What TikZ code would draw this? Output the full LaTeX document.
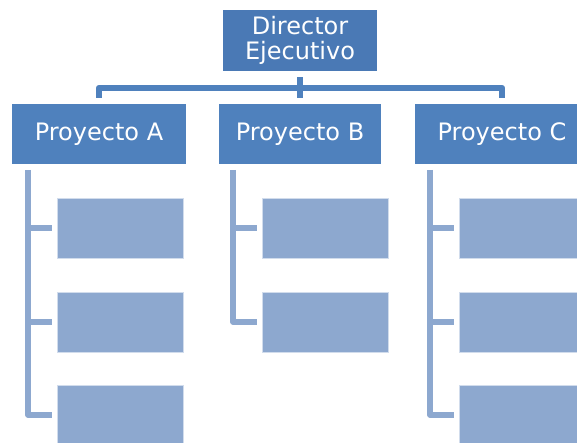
\documentclass[tikz,border=0pt]{standalone}
\usepackage{fontspec}
\setmainfont{DejaVu Sans}
\definecolor{dirblue}{HTML}{4A79B5}
\definecolor{projblue}{HTML}{4F81BD}
\definecolor{subblue}{HTML}{8DA8CF}
\tikzset{
  topbox/.style={fill=dirblue, text=white, inner sep=0pt, align=center,
    font=\fontsize{24}{25}\selectfont, minimum width=154pt, minimum height=61pt},
  projbox/.style={fill=projblue, text=white, inner sep=0pt,
    font=\fontsize{24}{25}\selectfont, minimum height=60pt},
  subbox/.style={fill=subblue, draw=white!60!subblue, line width=0.6pt, inner sep=0pt,
    minimum width=126pt, minimum height=60pt},
  conn/.style={draw=projblue, line width=6.5pt, line join=round},
  brk/.style={draw=subblue, line width=5.5pt, line join=round}
}
\begin{document}
\begin{tikzpicture}[x=1pt,y=-1pt]
\useasboundingbox (0,0) rectangle (577,443);
\clip (0,0) rectangle (577,443);
% top
\node[topbox] (dir) at (300,40.5) {Director\\Ejecutivo};
% projects
\node[projbox, minimum width=174pt] (pa) at (99,134) {\raisebox{-2pt}{Proyecto A}};
\node[projbox, minimum width=162pt] (pb) at (300,134) {\raisebox{-2pt}{Proyecto B}};
\node[projbox, minimum width=174pt] (pc) at (502,134) {\raisebox{-2pt}{Proyecto C}};
% sub boxes
\node[subbox] (a1) at (120,228) {};
\node[subbox] (a2) at (120,322) {};
\node[subbox] (a3) at (120,415) {};
\node[subbox] (b1) at (325,228) {};
\node[subbox] (b2) at (325,322) {};
\node[subbox] (c1) at (522,228) {};
\node[subbox] (c2) at (522,322) {};
\node[subbox] (c3) at (522,415) {};
% top connectors
\coordinate (bar) at (300,88);
\draw[conn] ([yshift=6pt]pa.north) -- (pa.north |- bar) -- (pc.north |- bar) -- ([yshift=6pt]pc.north);
\draw[conn] ([yshift=-6pt]dir.south) -- ([yshift=6pt]pb.north);
% brackets
\coordinate (ta) at (28,170);
\coordinate (tb) at (233,170);
\coordinate (tc) at (430,170);
\draw[brk] (ta) |- ([xshift=-5pt]a3.west);
\draw[brk] (ta |- a1.west) -- ([xshift=-5pt]a1.west);
\draw[brk] (ta |- a2.west) -- ([xshift=-5pt]a2.west);
\draw[brk] (tb) |- ([xshift=-5pt]b2.west);
\draw[brk] (tb |- b1.west) -- ([xshift=-5pt]b1.west);
\draw[brk] (tc) |- ([xshift=-5pt]c3.west);
\draw[brk] (tc |- c1.west) -- ([xshift=-5pt]c1.west);
\draw[brk] (tc |- c2.west) -- ([xshift=-5pt]c2.west);
\end{tikzpicture}
\end{document}
